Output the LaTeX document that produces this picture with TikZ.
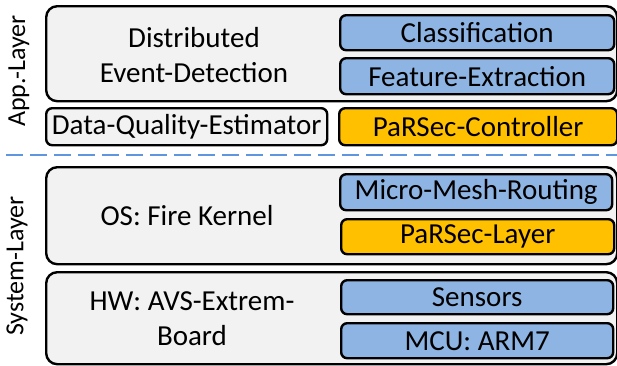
\documentclass[tikz,border=0pt]{standalone}
\usepackage{fontspec}
\setmainfont{Carlito}
\definecolor{boxgrey}{HTML}{F2F2F2}
\definecolor{boxblue}{HTML}{8EB4E3}
\definecolor{boxgold}{HTML}{FFC000}
\definecolor{dashblue}{HTML}{6096DE}
\tikzset{
  bigbox/.style={draw=black, line width=2.4pt, fill=boxgrey, rounded corners=11pt, anchor=north west, inner sep=0pt},
  smallbox/.style={draw=black, line width=2.4pt, rounded corners=6pt, anchor=north west, inner sep=0pt},
  bluebox/.style={smallbox, fill=boxblue},
  goldbox/.style={smallbox, fill=boxgold},
  greybox/.style={smallbox, fill=boxgrey},
  lbl/.style={font=\fontsize{29}{35}\selectfont, align=center, inner sep=0pt},
  sidelbl/.style={font=\fontsize{26}{31}\selectfont, inner sep=0pt, rotate=90},
}
\begin{document}
\begin{tikzpicture}[x=1pt,y=-1pt]
\useasboundingbox (0,0) rectangle (617,365);
% App layer
\node[bigbox, minimum width=571pt, minimum height=95pt] (app) at (45,5) {};
\node[bluebox, minimum width=274pt, minimum height=35pt] (cls) at (339,14) {};
\node[bluebox, minimum width=274pt, minimum height=36pt] (fex) at (339,57) {};
\node[greybox, minimum width=281pt, minimum height=37pt] (dqe) at (45,107) {};
\node[goldbox, minimum width=278pt, minimum height=37pt] (psc) at (338,107) {};
% System layer
\node[bigbox, minimum width=571pt, minimum height=97pt] (os) at (45,166) {};
\node[bluebox, minimum width=272pt, minimum height=36pt] (mmr) at (339,173) {};
\node[goldbox, minimum width=273pt, minimum height=35pt] (psl) at (340,218) {};
\node[bigbox, minimum width=571pt, minimum height=92pt] (hw) at (45,271) {};
\node[bluebox, minimum width=272pt, minimum height=34pt] (sen) at (340,279) {};
\node[bluebox, minimum width=272pt, minimum height=35pt] (mcu) at (340,322) {};
% Divider
\coordinate (dl) at (6,155);
\coordinate (dr) at (617,155);
\draw[dashblue, line width=2.6pt, dash pattern=on 17pt off 7pt] (dl) -- (dr);
% Texts
\node[lbl] (tdet) at (194,55) {Distributed\\Event-Detection};
\node[lbl] at (cls.center) (tcls) {Classification};
\node[lbl] at (fex.center) (tfex) {Feature-Extraction};
\node[lbl] at (dqe.center) (tdqe) {Data-Quality-Estimator};
\node[lbl] at (psc.center) (tpsc) {PaRSec-Controller};
\node[lbl] (tos) at (187,216) {OS: Fire Kernel};
\node[lbl] at (mmr.center) (tmmr) {Micro-Mesh-Routing};
\node[lbl] at (psl.center) (tpsl) {PaRSec-Layer};
\node[lbl] (thw) at (192,319) {HW: AVS-Extrem-\\Board};
\node[lbl] at (sen.center) (tsen) {Sensors};
\node[lbl] at (mcu.center) (tmcu) {MCU: ARM7};
\node[sidelbl] (tapp) at (19,71) {App.-Layer};
\node[sidelbl] (tsys) at (17,266) {System-Layer};
\end{tikzpicture}
\end{document}
